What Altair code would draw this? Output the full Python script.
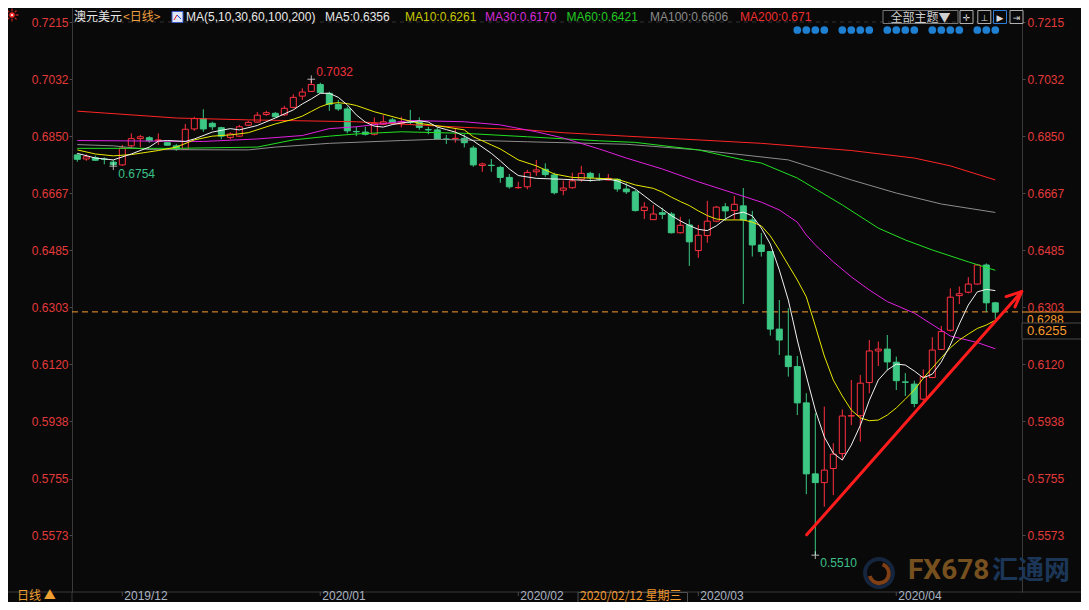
import altair as alt
import pandas as pd

# ---------------- data ----------------
opens = [0.6790, 0.6777, 0.6781, 0.6777, 0.6767, 0.6758, 0.6819, 0.6842, 0.6845, 0.6836,
         0.6829, 0.6819, 0.6808, 0.6873, 0.6906, 0.6891, 0.6877, 0.6846, 0.6850, 0.6885,
         0.6895, 0.6919, 0.6923, 0.6918, 0.6942, 0.6978, 0.6993, 0.7015, 0.6987, 0.6951,
         0.6937, 0.6865, 0.6863, 0.6856, 0.6888, 0.6902, 0.6891, 0.6895, 0.6896, 0.6871,
         0.6870, 0.6841, 0.6842, 0.6843, 0.6812, 0.6756, 0.6757, 0.6750, 0.6718, 0.6685,
         0.6688, 0.6736, 0.6744, 0.6726, 0.6677, 0.6685, 0.6712, 0.6731, 0.6714, 0.6710,
         0.6712, 0.6681, 0.6672, 0.6612, 0.6583, 0.6605, 0.6601, 0.6541, 0.6566, 0.6484,
         0.6532, 0.6578, 0.6624, 0.6612, 0.6627, 0.6582, 0.6502, 0.6481, 0.6233, 0.6147,
         0.6113, 0.5997, 0.5770, 0.5742, 0.5787, 0.5835, 0.5955, 0.5956, 0.6062, 0.6163,
         0.6169, 0.6127, 0.6064, 0.6057, 0.6009, 0.6078, 0.6168, 0.6229, 0.6340, 0.6351,
         0.6377, 0.6438, 0.6317]
highs = [0.6795, 0.6792, 0.6788, 0.6782, 0.6774, 0.6822, 0.6859, 0.6854, 0.6850, 0.6859,
         0.6832, 0.6825, 0.6889, 0.6912, 0.6936, 0.6896, 0.6880, 0.6862, 0.6886, 0.6899,
         0.6927, 0.6931, 0.6927, 0.6947, 0.6984, 0.7003, 0.7032, 0.7021, 0.6992, 0.6966,
         0.6944, 0.6880, 0.6880, 0.6910, 0.6917, 0.6908, 0.6912, 0.6934, 0.6910, 0.6880,
         0.6878, 0.6854, 0.6875, 0.6856, 0.6819, 0.6765, 0.6777, 0.6755, 0.6729, 0.6704,
         0.6742, 0.6774, 0.6763, 0.6733, 0.6708, 0.6733, 0.6755, 0.6736, 0.6731, 0.6729,
         0.6715, 0.6699, 0.6678, 0.6639, 0.6630, 0.6621, 0.6607, 0.6592, 0.6584, 0.6566,
         0.6643, 0.6627, 0.6636, 0.6659, 0.6684, 0.6611, 0.6540, 0.6483, 0.6326, 0.6300,
         0.6147, 0.6028, 0.5964, 0.5985, 0.5868, 0.5976, 0.6070, 0.6086, 0.6198, 0.6193,
         0.6214, 0.6145, 0.6092, 0.6068, 0.6104, 0.6207, 0.6243, 0.6363, 0.6369, 0.6399,
         0.6441, 0.6443, 0.6320]
lows = [0.6768, 0.6771, 0.6771, 0.6760, 0.6754, 0.6755, 0.6814, 0.6814, 0.6829, 0.6822,
        0.6819, 0.6803, 0.6806, 0.6867, 0.6864, 0.6870, 0.6840, 0.6840, 0.6848, 0.6882,
        0.6893, 0.6915, 0.6910, 0.6915, 0.6939, 0.6966, 0.6992, 0.6987, 0.6931, 0.6931,
        0.6859, 0.6850, 0.6852, 0.6852, 0.6885, 0.6886, 0.6878, 0.6886, 0.6870, 0.6856,
        0.6840, 0.6825, 0.6829, 0.6814, 0.6752, 0.6736, 0.6736, 0.6701, 0.6682, 0.6682,
        0.6680, 0.6723, 0.6720, 0.6664, 0.6661, 0.6682, 0.6704, 0.6704, 0.6707, 0.6708,
        0.6672, 0.6665, 0.6609, 0.6585, 0.6582, 0.6585, 0.6539, 0.6539, 0.6435, 0.6461,
        0.6509, 0.6575, 0.6580, 0.6582, 0.6313, 0.6465, 0.6465, 0.6212, 0.6150, 0.6081,
        0.5958, 0.5705, 0.5510, 0.5665, 0.5702, 0.5814, 0.5926, 0.5873, 0.6028, 0.6115,
        0.6102, 0.6038, 0.6019, 0.5983, 0.6004, 0.6076, 0.6166, 0.6225, 0.6313, 0.6347,
        0.6375, 0.6288, 0.6264]
closes = [0.6776, 0.6784, 0.6773, 0.6776, 0.6759, 0.6812, 0.6842, 0.6848, 0.6835, 0.6838,
          0.6821, 0.6808, 0.6872, 0.6906, 0.6873, 0.6880, 0.6850, 0.6857, 0.6880, 0.6894,
          0.6917, 0.6925, 0.6912, 0.6939, 0.6974, 0.6991, 0.7015, 0.6989, 0.6952, 0.6937,
          0.6867, 0.6864, 0.6856, 0.6891, 0.6896, 0.6891, 0.6895, 0.6894, 0.6878, 0.6870,
          0.6841, 0.6840, 0.6843, 0.6829, 0.6758, 0.6761, 0.6756, 0.6718, 0.6688, 0.6686,
          0.6734, 0.6742, 0.6727, 0.6669, 0.6684, 0.6707, 0.6731, 0.6717, 0.6713, 0.6715,
          0.6681, 0.6672, 0.6612, 0.6623, 0.6601, 0.6600, 0.6541, 0.6565, 0.6512, 0.6533,
          0.6578, 0.6623, 0.6611, 0.6632, 0.6582, 0.6502, 0.6481, 0.6233, 0.6198, 0.6113,
          0.5997, 0.5770, 0.5742, 0.5782, 0.5833, 0.5955, 0.5956, 0.6060, 0.6163, 0.6169,
          0.6128, 0.6068, 0.6063, 0.5995, 0.6081, 0.6166, 0.6225, 0.6335, 0.6346, 0.6377,
          0.6438, 0.6317, 0.6288]

ma5_idx = [0, 2, 4, 6, 8, 9, 10, 12, 13, 15, 17, 18, 20, 22, 24, 25, 26, 27, 28, 29,
           30, 31, 32, 33, 34, 35, 36, 38, 39, 40, 41, 42, 43, 44, 46, 47, 48, 49, 51, 54,
           57, 59, 60, 61, 62, 63, 64, 65, 66, 67, 68, 69, 70, 71, 72, 73, 74, 75, 76, 77,
           78, 79, 80, 81, 82, 83, 84, 85, 86, 87, 88, 89, 90, 91, 92, 93, 94, 95, 96, 97,
           98, 99, 100, 101, 102]
ma5_val = [0.6795, 0.6780, 0.6774, 0.6793, 0.6815, 0.6834, 0.6836, 0.6833, 0.6841, 0.6863,
           0.6874, 0.6870, 0.6884, 0.6908, 0.6934, 0.6953, 0.6969, 0.6987, 0.6987, 0.6974,
           0.6950, 0.6918, 0.6895, 0.6882, 0.6879, 0.6887, 0.6892, 0.6899, 0.6895, 0.6879,
           0.6871, 0.6863, 0.6850, 0.6835, 0.6795, 0.6771, 0.6745, 0.6724, 0.6715, 0.6712,
           0.6708, 0.6712, 0.6707, 0.6695, 0.6681, 0.6659, 0.6637, 0.6617, 0.6596, 0.6579,
           0.6564, 0.6552, 0.6548, 0.6563, 0.6585, 0.6601, 0.6607, 0.6595, 0.6556, 0.6505,
           0.6422, 0.6326, 0.6198, 0.6083, 0.5974, 0.5888, 0.5836, 0.5814, 0.5862, 0.5925,
           0.6005, 0.6070, 0.6102, 0.6121, 0.6118, 0.6099, 0.6077, 0.6089, 0.6128, 0.6182,
           0.6249, 0.6310, 0.6352, 0.6360, 0.6356]
ma10_idx = [0, 2, 4, 6, 9, 11, 13, 15, 17, 19, 22, 24, 25, 26, 27, 28, 29, 30, 31, 33,
            36, 38, 41, 43, 44, 46, 47, 49, 51, 53, 55, 58, 60, 62, 64, 65, 66, 67, 68, 69,
            70, 71, 72, 73, 74, 75, 76, 77, 78, 79, 80, 81, 82, 83, 84, 85, 86, 87, 88, 89,
            90, 91, 92, 93, 94, 95, 96, 97, 98, 99, 100, 101, 102]
ma10_val = [0.6806, 0.6793, 0.6787, 0.6791, 0.6804, 0.6815, 0.6838, 0.6850, 0.6854, 0.6861,
            0.6889, 0.6904, 0.6914, 0.6929, 0.6944, 0.6954, 0.6957, 0.6954, 0.6948, 0.6928,
            0.6905, 0.6891, 0.6879, 0.6870, 0.6848, 0.6822, 0.6809, 0.6774, 0.6755, 0.6729,
            0.6718, 0.6715, 0.6712, 0.6694, 0.6683, 0.6671, 0.6655, 0.6641, 0.6628, 0.6611,
            0.6596, 0.6585, 0.6582, 0.6582, 0.6582, 0.6575, 0.6563, 0.6531, 0.6486, 0.6438,
            0.6390, 0.6336, 0.6243, 0.6147, 0.6070, 0.6019, 0.5974, 0.5949, 0.5940, 0.5942,
            0.5958, 0.5981, 0.6009, 0.6038, 0.6076, 0.6109, 0.6141, 0.6173, 0.6198, 0.6217,
            0.6235, 0.6246, 0.6261]
ma30_idx = [0, 14, 20, 25, 28, 31, 37, 43, 47, 51, 54, 58, 61, 65, 69, 73, 76, 78, 80, 81,
            82, 84, 86, 88, 90, 93, 97, 100, 102]
ma30_val = [0.6836, 0.6833, 0.6841, 0.6852, 0.6874, 0.6880, 0.6900, 0.6896, 0.6886, 0.6864,
            0.6844, 0.6809, 0.6780, 0.6745, 0.6704, 0.6667, 0.6639, 0.6614, 0.6575, 0.6534,
            0.6502, 0.6448, 0.6400, 0.6358, 0.6321, 0.6284, 0.6211, 0.6190, 0.6170]
ma60_idx = [0, 11, 20, 24, 28, 31, 36, 43, 50, 58, 62, 69, 74, 76, 80, 85, 89, 92, 95, 99, 102]
ma60_val = [0.6811, 0.6811, 0.6815, 0.6838, 0.6850, 0.6857, 0.6864, 0.6859, 0.6848, 0.6835,
            0.6830, 0.6806, 0.6774, 0.6764, 0.6716, 0.6630, 0.6556, 0.6518, 0.6486, 0.6448,
            0.6421]
ma100_idx = [0, 4, 8, 19, 22, 28, 36, 40, 50, 61, 69, 79, 86, 91, 96, 102]
ma100_val = [0.6823, 0.6819, 0.6807, 0.6806, 0.6815, 0.6827, 0.6836, 0.6840, 0.6832, 0.6824,
             0.6806, 0.6774, 0.6710, 0.6668, 0.6633, 0.6606]
ma200_idx = [0, 3, 11, 19, 31, 43, 50, 54, 61, 69, 76, 86, 93, 97, 102]
ma200_val = [0.6930, 0.6924, 0.6908, 0.6902, 0.6896, 0.6878, 0.6870, 0.6861, 0.6850, 0.6838,
             0.6827, 0.6804, 0.6780, 0.6755, 0.6710]

price_ticks = [0.7215, 0.7032, 0.6850, 0.6667, 0.6485, 0.6303, 0.6120, 0.5938, 0.5755, 0.5573]
month_ticks = [5, 27, 49, 69, 91]
month_labels = ["2019/12", "2020/01", "2020/02", "2020/03", "2020/04"]

ext_idx = [26, 4, 82]
ext_val = [0.7032, 0.6754, 0.5510]
ext_kind = ["high", "low", "low"]

trend_idx = [81.04, 104.93]
trend_val = [0.5575, 0.6353]
barb_idx = [103.2, 104.19]
barb_val = [0.6337, 0.6304]

event_idx = [80, 81, 82, 83, 85, 86, 87, 88, 90, 91, 92, 93, 95, 96, 97, 98, 100, 101, 102]

last_price = closes[-1]
cross_price = 0.6255
cross_date = "2020/02/12 星期三"

legend_items = [("MA5:0.6356", "#e6e6e6"), ("MA10:0.6261", "#c8c800"), ("MA30:0.6170", "#d629d6"),
                ("MA60:0.6421", "#22c822"), ("MA100:0.6606", "#8a8a8a"), ("MA200:0.671", "#ee2e2e")]

# ---------------- styling ----------------
BG = "#090909"
RED = "#ff3040"
GREEN = "#3cc884"
AXIS_RED = "#e23a3a"
ORANGE = "#f79a2e"
LAT = "Liberation Sans"
CJK = "Noto Sans CJK SC"
W, H = 950, 584
TY = 9          # title row centre (px from plot top)
BY = 588        # bottom strip text centre

xs = alt.Scale(domain=[-0.589, 104.967], nice=False, zero=False, padding=0)
ys = alt.Scale(domain=[0.53922, 0.72598], nice=False, zero=False, padding=0)

candles = pd.DataFrame({"i": list(range(len(opens))), "open": opens, "high": highs,
                        "low": lows, "close": closes})
candles["dir"] = ["up" if c >= o else "down" for o, c in zip(opens, closes)]


def y_axis(orient, tick, pad):
    return alt.Axis(orient=orient, values=price_ticks, format=".4f", labelColor=AXIS_RED,
                    labelFont=LAT, labelFontSize=12, labelBaseline="middle", tickSize=tick,
                    labelPadding=pad, tickColor="#4a4a4a", domainColor="#3a3a3a", grid=False,
                    title=None, labelOverlap=False, labelFlush=False)


def T(s, x, y, color, size=12, font=LAT, align="left", weight="normal"):
    return alt.Chart().mark_text(align=align, baseline="middle", font=font, fontSize=size,
                                 color=color, fontWeight=weight).encode(
        x=alt.value(x), y=alt.value(y), text=alt.value(s))


def R(x, x2, y, y2, fill, stroke, sw=1):
    return alt.Chart().mark_rect(fill=fill, stroke=stroke, strokeWidth=sw).encode(
        x=alt.value(x), x2=alt.value(x2), y=alt.value(y), y2=alt.value(y2))


def L(x, x2, y, y2, color, sw=1):
    return alt.Chart().mark_rule(color=color, strokeWidth=sw).encode(
        x=alt.value(x), x2=alt.value(x2), y=alt.value(y), y2=alt.value(y2))


layers = []

# top dashed guide and last-price dashed line
layers.append(alt.Chart(pd.DataFrame({"p": [price_ticks[0]]})).mark_rule(
    color="#333333", strokeDash=[4, 4], strokeWidth=1).encode(
    y=alt.Y("p:Q", scale=ys, axis=None), x=alt.value(0), x2=alt.value(W)))
layers.append(alt.Chart(pd.DataFrame({"p": [last_price]})).mark_rule(
    color=ORANGE, strokeDash=[6, 4], strokeWidth=1).encode(
    y=alt.Y("p:Q", scale=ys, axis=None), x=alt.value(0), x2=alt.value(W)))

# candles
up = "datum.dir == 'up'"
layers.append(alt.Chart(candles).mark_rule(strokeWidth=1).encode(
    x=alt.X("i:Q", scale=xs, axis=None),
    y=alt.Y("low:Q", scale=ys, axis=y_axis("left", 3, 1)),
    y2="high:Q",
    color=alt.condition(up, alt.value(RED), alt.value(GREEN))))
layers.append(alt.Chart(candles).mark_bar(size=6, strokeWidth=1).encode(
    x=alt.X("i:Q", scale=xs, axis=None),
    y=alt.Y("open:Q", scale=ys, axis=y_axis("right", 3, 2)),
    y2="close:Q",
    fill=alt.condition(up, alt.value(BG), alt.value(GREEN)),
    stroke=alt.condition(up, alt.value(RED), alt.value(GREEN))))

# moving averages
for ii, vv, col in [(ma200_idx, ma200_val, "#ff2424"), (ma100_idx, ma100_val, "#8c8c8c"),
                    (ma60_idx, ma60_val, "#22e022"), (ma30_idx, ma30_val, "#e020e0"),
                    (ma10_idx, ma10_val, "#e8e800"), (ma5_idx, ma5_val, "#f2f2f2")]:
    layers.append(alt.Chart(pd.DataFrame({"i": ii, "v": vv})).mark_line(
        color=col, strokeWidth=1).encode(
        x=alt.X("i:Q", scale=xs, axis=None), y=alt.Y("v:Q", scale=ys, axis=None)))

# trend arrow
tr = pd.DataFrame({"x": [trend_idx[0], barb_idx[0], barb_idx[1]],
                   "x2": [trend_idx[1]] * 3,
                   "y": [trend_val[0], barb_val[0], barb_val[1]],
                   "y2": [trend_val[1]] * 3})
layers.append(alt.Chart(tr).mark_rule(color="#ff1c1c", strokeWidth=3, strokeCap="round").encode(
    x=alt.X("x:Q", scale=xs, axis=None), x2="x2:Q",
    y=alt.Y("y:Q", scale=ys, axis=None), y2="y2:Q"))

# extreme markers
ext = pd.DataFrame({"i": ext_idx, "v": ext_val, "kind": ext_kind,
                    "lbl": [f"{v:.4f}" for v in ext_val]})
layers.append(alt.Chart(ext).mark_point(shape="M-1,0H1M0,-1V1", filled=False, stroke="#ffffff",
                                        strokeWidth=1, size=60).encode(
    x=alt.X("i:Q", scale=xs, axis=None), y=alt.Y("v:Q", scale=ys, axis=None)))
layers.append(alt.Chart(ext[ext.kind == "high"]).mark_text(
    align="left", baseline="middle", dx=5, dy=-7, font=LAT, fontSize=12, color="#f0323c").encode(
    x=alt.X("i:Q", scale=xs, axis=None), y=alt.Y("v:Q", scale=ys, axis=None), text="lbl:N"))
layers.append(alt.Chart(ext[ext.kind == "low"]).mark_text(
    align="left", baseline="middle", dx=5, dy=7.5, font=LAT, fontSize=12, color="#3cc088").encode(
    x=alt.X("i:Q", scale=xs, axis=None), y=alt.Y("v:Q", scale=ys, axis=None), text="lbl:N"))

# event dots at top right
layers.append(alt.Chart(pd.DataFrame({"i": event_idx})).mark_circle(
    color="#1f7fd0", opacity=1, size=60).encode(
    x=alt.X("i:Q", scale=xs, axis=None), y=alt.value(22)))

# right side price boxes
layers.append(L(W, W + 67, 304, 304, ORANGE))
layers.append(alt.Chart(pd.DataFrame({"p": [last_price], "t": [f"{last_price:.4f}"]})).mark_text(
    align="left", baseline="middle", dy=8, font=LAT, fontSize=12, color=ORANGE).encode(
    x=alt.value(W + 5), y=alt.Y("p:Q", scale=ys, axis=None), text="t:N"))
layers.append(R(W, W + 67, 315, 331, BG, "#4a4a4a"))
layers.append(T(f"{cross_price:.4f}", W + 5, 323, ORANGE, size=13))

# bottom date axis (month ticks through the x scale)
months = pd.DataFrame({"t": month_ticks, "lbl": month_labels})
layers.append(L(-64, W + 59, H, H, "#3a3a3a"))
layers.append(alt.Chart(months).mark_rule(color="#4a4a4a", strokeWidth=1).encode(
    x=alt.X("t:Q", scale=xs, axis=None), y=alt.value(H), y2=alt.value(H + 4)))
layers.append(alt.Chart(months).mark_text(
    align="left", baseline="middle", dx=2, font=LAT, fontSize=12, color="#a9b3c1").encode(
    x=alt.X("t:Q", scale=xs, axis=None), y=alt.value(BY), text="lbl:N"))
layers.append(L(0, 0, H, H + 10, "#3a3a3a"))
layers.append(T("日线 ▲", -55, BY, "#f0a030", font=CJK))
layers.append(R(506, 615.5, H + 0.5, H + 12, BG, "#505050"))
layers.append(T(cross_date, 508, BY, "#f0962a", font=CJK))

# title bar
layers.append(alt.Chart().mark_point(
    shape="M-1,0L-0.55,0M0.55,0L1,0M0,-1L0,-0.55M0,0.55L0,1M-0.7,-0.7L-0.4,-0.4M0.4,0.4L0.7,0.7M-0.7,0.7L-0.4,0.4M0.4,-0.4L0.7,-0.7",
    filled=False, stroke="#ff2a2a", strokeWidth=1.3, size=170).encode(x=alt.value(-60), y=alt.value(TY - 2)))
layers.append(alt.Chart().mark_circle(color="#ff2a2a", opacity=1, size=30).encode(x=alt.value(-60), y=alt.value(TY - 2)))
layers.append(alt.Chart().mark_circle(color="#ffffff", opacity=1, size=5).encode(x=alt.value(-60), y=alt.value(TY - 2)))
layers.append(T("澳元美元", 2, TY, "#e8e8e8", font=CJK))
layers.append(T("<日线>", 51, TY, "#f0a040", font=CJK))
layers.append(R(100, 111, TY - 5.5, TY + 5.5, "#dfe7f6", "#3a5bc8"))
layers.append(L(102, 105, TY + 3, TY - 2, "#e02020"))
layers.append(L(105, 109, TY - 2, TY + 2, "#2040d0"))
layers.append(T("MA(5,10,30,60,100,200)", 114, TY, "#e8e8e8"))
for (txt, col), xx in zip(legend_items, [253, 333, 413, 494.5, 578, 668]):
    layers.append(T(txt, xx, TY, col))
layers.append(R(811, 886, TY - 6.5, TY + 6.5, "transparent", "#7a7a7a"))
layers.append(T("全部主题▼", 848.5, TY + 0.5, "#cfcfcf", font=CJK, align="center"))
for (x0, sc, g) in [(888, "#b0b0b0", "✛"), (905.8, "#b0b0b0", "⊥"), (921.5, "#2f7fd8", "▶"), (938, "#b0b0b0", "⇥")]:
    layers.append(R(x0, x0 + 13, TY - 6.5, TY + 6.5, BG, sc))
    layers.append(T(g, x0 + 6.5, TY + 0.5, "#d8d8d8", size=9, font="DejaVu Sans", align="center"))

# watermark
layers.append(alt.Chart().mark_point(shape="circle", filled=False, stroke="#1a3254", strokeWidth=4,
                                     size=780).encode(x=alt.value(807), y=alt.value(565)))
layers.append(alt.Chart().mark_point(shape="M-0.9,0.3A0.95,0.95 0 1 0 0.35,-0.85", filled=False,
                                     stroke="#b4561c", strokeWidth=4, size=420).encode(
    x=alt.value(807), y=alt.value(565)))
layers.append(T("FX678", 836, 563, "#77501f", size=28, font="Roboto", weight="bold"))
layers.append(T("汇通网", 920, 563, "#1c3658", size=26, font=CJK, weight="bold"))

chart = alt.layer(*layers).resolve_axis(y="independent").properties(
    width=W, height=H,
    autosize=alt.AutoSizeParams(type="none"),
    padding={"left": 64, "top": 0, "right": 59, "bottom": 10},
    background=BG,
).configure_view(stroke=None)

chart.save("out.html", embed_options={"renderer": "svg", "actions": False})
